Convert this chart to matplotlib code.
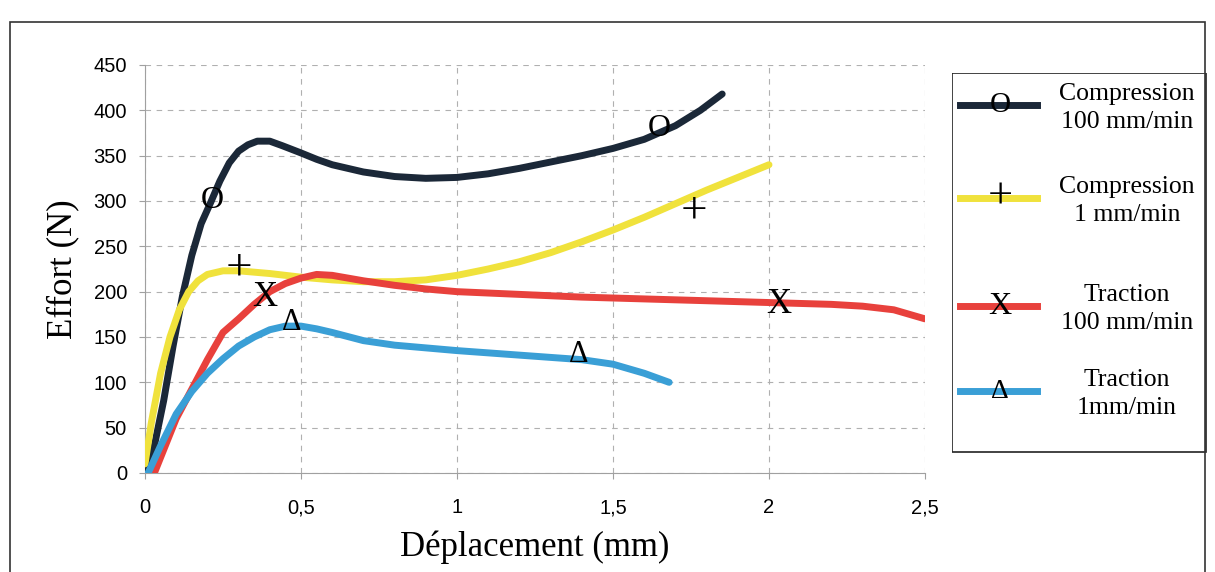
import matplotlib.pyplot as plt
from matplotlib.patches import Rectangle
from matplotlib.lines import Line2D

# Compression 100 mm/min
x_c100 = [0.0, 0.03, 0.06, 0.09, 0.12, 0.15, 0.18, 0.21, 0.24, 0.27, 0.3, 0.33, 0.36,
          0.4, 0.44, 0.5, 0.55, 0.6, 0.7, 0.8, 0.9, 1.0, 1.1, 1.2, 1.3, 1.4, 1.5,
          1.6, 1.7, 1.78, 1.85]
y_c100 = [0, 30, 80, 140, 195, 240, 275, 298, 322, 342, 355, 362, 366,
          366, 361, 353, 346, 340, 332, 327, 325, 326, 330, 336, 343, 350, 358,
          368, 383, 400, 418]
# Compression 1 mm/min
x_c1 = [0.0, 0.02, 0.05, 0.08, 0.11, 0.14, 0.17, 0.2, 0.25, 0.3, 0.4, 0.5, 0.6, 0.7,
        0.8, 0.9, 1.0, 1.1, 1.2, 1.3, 1.4, 1.5, 1.6, 1.7, 1.8, 1.9, 2.0]
y_c1 = [10, 55, 110, 150, 180, 200, 212, 219, 223, 223, 220, 216, 213, 211,
        211, 213, 218, 225, 233, 243, 255, 268, 282, 297, 312, 326, 340]
# Traction 100 mm/min
x_t100 = [0.03, 0.1, 0.2, 0.25, 0.3, 0.35, 0.4, 0.45, 0.5, 0.55, 0.6, 0.7, 0.8, 0.9,
          1.0, 1.2, 1.4, 1.6, 1.8, 2.0, 2.2, 2.3, 2.4, 2.5]
y_t100 = [0, 60, 125, 155, 170, 186, 200, 209, 215, 219, 218, 212, 207, 203,
          200, 197, 194, 192, 190, 188, 186, 184, 180, 170]
# Traction 1 mm/min
x_t1 = [0.01, 0.05, 0.1, 0.15, 0.2, 0.25, 0.3, 0.35, 0.4, 0.45, 0.5, 0.55, 0.6, 0.7,
        0.8, 1.0, 1.2, 1.4, 1.5, 1.6, 1.68]
y_t1 = [0, 30, 65, 90, 110, 126, 140, 150, 158, 162, 162, 159, 155, 146,
        141, 135, 130, 125, 120, 110, 100]

# marker symbols drawn as text near the curves
mk_c100 = [(0.215, 300), (1.65, 380)]
mk_c1 = [(0.3, 226), (1.76, 289)]
mk_t100 = [(0.385, 194), (2.03, 186)]
mk_t1 = [(0.47, 166), (1.39, 131)]

labels = ["Compression\n100 mm/min", "Compression\n1 mm/min",
          "Traction\n100 mm/min", "Traction\n1mm/min"]
colors = ["#1b2838", "#f0e23c", "#e8413c", "#3a9fd6"]
symbols = ["O", "+", "X", "Δ"]
xticks = [0, 0.5, 1, 1.5, 2, 2.5]
xtick_labels = ["0", "0,5", "1", "1,5", "2", "2,5"]
yticks = list(range(0, 451, 50))

serif = "Liberation Serif"
sans = "Liberation Sans"
sym_size = {"O": 23, "+": 34, "X": 25, "Δ": 22}

fig = plt.figure(figsize=(12.15, 5.72), dpi=100)
ax = fig.add_axes([145/1215, 99/572, 780/1215, 408/572])

series = [(x_c100, y_c100, mk_c100), (x_c1, y_c1, mk_c1),
          (x_t100, y_t100, mk_t100), (x_t1, y_t1, mk_t1)]
for (xs, ys, mk), col, sym in zip(series, colors, symbols):
    ax.plot(xs, ys, color=col, lw=5, solid_capstyle="round",
            solid_joinstyle="round", zorder=3)
    for mx, my in mk:
        ax.text(mx, my, sym, fontsize=sym_size[sym], family=serif, ha="center",
                va="center", color="black", zorder=4)

ax.set_xlim(0, 2.5)
ax.set_ylim(0, 450)
ax.set_xticks(xticks)
ax.set_xticklabels(xtick_labels)
ax.set_yticks(yticks)
ax.grid(True, color="#b0b0b0", ls=(0, (5, 5)), lw=0.8)
for s in ["top", "right"]:
    ax.spines[s].set_visible(False)
for s in ["left", "bottom"]:
    ax.spines[s].set_color("#a0a0a0")
    ax.spines[s].set_linewidth(0.8)
ax.tick_params(length=4, color="#a0a0a0", labelsize=14.5)
ax.tick_params(axis="x", pad=14)
ax.tick_params(axis="y", pad=9)
for lab in ax.get_xticklabels() + ax.get_yticklabels():
    lab.set_family(sans)
ax.set_xlabel("Déplacement (mm)", family=serif, fontsize=25, labelpad=10)
ax.set_ylabel("Effort (N)", family=serif, fontsize=25, labelpad=10)

# outer frame
fig.patches.append(Rectangle((10/1215, -0.05), 1195/1215, 0.05 + 550/572,
                             transform=fig.transFigure, fill=False,
                             ec="#333333", lw=1.2))

# legend box
lg = fig.add_axes([952/1215, (572-453)/572, 255/1215, 380/572])
lg.set_xlim(0, 255)
lg.set_ylim(380, 0)
lg.axis("off")
lg.add_patch(Rectangle((0, 0), 254, 379, fill=False, ec="#222222", lw=1.2))
rows = [32, 125, 233, 318]
for r, lab, col, sym in zip(rows, labels, colors, symbols):
    lg.add_line(Line2D([8, 85], [r, r], color=col, lw=5))
    lg.text(48, r, sym, fontsize=sym_size[sym] - 2, family=serif, ha="center",
            va="center")
    lg.text(175, r + 3, lab, fontsize=18.5, family=serif, ha="center",
            va="center", linespacing=1.4)

fig.savefig("out.png", dpi=100)
